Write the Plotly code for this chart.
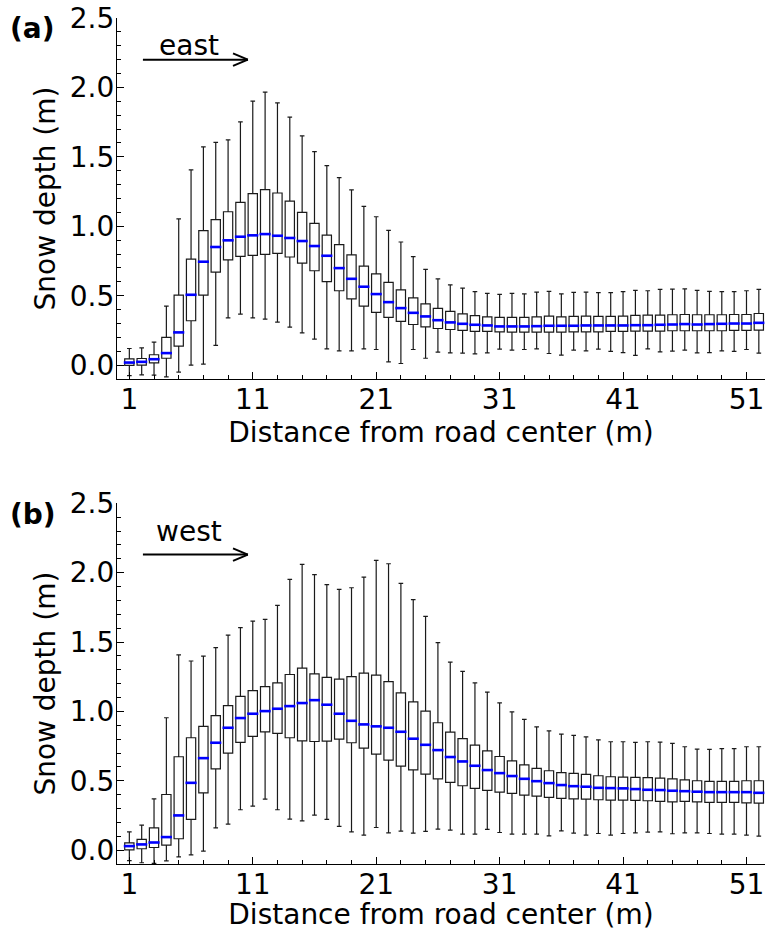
import plotly.graph_objects as go

positions = list(range(1, 53))

# Panel (a): east
upper_a = [0.12, 0.125, 0.166, 0.425, 1.053, 1.406, 1.572, 1.605, 1.622, 1.752,
           1.901, 1.966, 1.889, 1.786, 1.651, 1.538, 1.437, 1.351, 1.262, 1.144,
           1.069, 0.971, 0.887, 0.781, 0.69, 0.622, 0.579, 0.555, 0.53, 0.517,
           0.510, 0.517, 0.514, 0.526, 0.531, 0.514, 0.524, 0.526, 0.522, 0.522,
           0.529, 0.538, 0.536, 0.546, 0.548, 0.550, 0.538, 0.531, 0.529, 0.529, 0.536, 0.546]
q3_a = [0.046, 0.048, 0.075, 0.2, 0.505, 0.764, 0.969, 1.048, 1.105, 1.173,
        1.235, 1.264, 1.24, 1.182, 1.101, 1.021, 0.937, 0.868, 0.795, 0.714,
        0.658, 0.596, 0.543, 0.485, 0.442, 0.409, 0.387, 0.37, 0.357, 0.348,
        0.344, 0.344, 0.344, 0.348, 0.353, 0.348, 0.351, 0.353, 0.351, 0.351,
        0.353, 0.358, 0.360, 0.360, 0.363, 0.365, 0.363, 0.363, 0.363, 0.365, 0.365, 0.372]
med_a = [0.019, 0.024, 0.043, 0.087, 0.236, 0.507, 0.745, 0.851, 0.899, 0.925,
         0.935, 0.944, 0.932, 0.916, 0.894, 0.858, 0.788, 0.699, 0.622, 0.565,
         0.512, 0.454, 0.411, 0.377, 0.351, 0.324, 0.308, 0.298, 0.291, 0.286,
         0.279, 0.279, 0.279, 0.281, 0.284, 0.284, 0.284, 0.286, 0.286, 0.286,
         0.286, 0.288, 0.288, 0.291, 0.293, 0.296, 0.293, 0.296, 0.298, 0.300, 0.300, 0.305]
q1_a = [-0.002, 0.0, 0.017, 0.05, 0.137, 0.32, 0.505, 0.67, 0.759, 0.783,
        0.79, 0.798, 0.805, 0.779, 0.735, 0.68, 0.601, 0.536, 0.478, 0.425,
        0.38, 0.344, 0.315, 0.293, 0.276, 0.264, 0.257, 0.25, 0.243, 0.243,
        0.240, 0.238, 0.238, 0.238, 0.238, 0.238, 0.240, 0.240, 0.240, 0.243,
        0.243, 0.245, 0.245, 0.245, 0.248, 0.248, 0.248, 0.248, 0.248, 0.250, 0.250, 0.252]
lower_a = [-0.075, -0.07, -0.072, -0.084, -0.05, 0.0, 0.007, 0.142, 0.341, 0.368,
           0.341, 0.332, 0.31, 0.274, 0.233, 0.187, 0.118, 0.103, 0.103, 0.118,
           0.113, 0.024, 0.012, 0.113, 0.05, 0.094, 0.089, 0.087, 0.082, 0.089,
           0.115, 0.108, 0.113, 0.118, 0.084, 0.072, 0.108, 0.103, 0.115, 0.099,
           0.091, 0.070, 0.118, 0.096, 0.101, 0.108, 0.089, 0.091, 0.103, 0.099, 0.113, 0.087]

# Panel (b): west
upper_b = [0.132, 0.18, 0.37, 0.954, 1.408, 1.363, 1.399, 1.459, 1.55, 1.603,
           1.651, 1.663, 1.764, 1.951, 2.06, 1.985, 1.913, 1.879, 1.891, 1.968,
           2.088, 2.064, 1.923, 1.805, 1.685, 1.495, 1.355, 1.288, 1.206, 1.139,
           1.062, 0.997, 0.942, 0.889, 0.86, 0.836, 0.827, 0.817, 0.795, 0.781,
           0.781, 0.776, 0.781, 0.779, 0.769, 0.745, 0.728, 0.726, 0.731, 0.731, 0.745, 0.745]
q3_b = [0.053, 0.077, 0.161, 0.401, 0.673, 0.81, 0.892, 0.969, 1.041, 1.108,
        1.149, 1.178, 1.206, 1.266, 1.312, 1.271, 1.245, 1.233, 1.25, 1.276,
        1.262, 1.214, 1.134, 1.069, 1.002, 0.918, 0.851, 0.803, 0.757, 0.716,
        0.675, 0.644, 0.615, 0.589, 0.572, 0.558, 0.553, 0.546, 0.536, 0.529,
        0.526, 0.524, 0.522, 0.519, 0.514, 0.507, 0.5, 0.495, 0.495, 0.495, 0.5, 0.5]
med_b = [0.029, 0.041, 0.055, 0.094, 0.25, 0.485, 0.663, 0.774, 0.882, 0.952,
         0.983, 1.002, 1.019, 1.038, 1.06, 1.081, 1.048, 0.983, 0.932, 0.906,
         0.892, 0.882, 0.853, 0.803, 0.759, 0.721, 0.671, 0.639, 0.608, 0.577,
         0.555, 0.534, 0.514, 0.497, 0.483, 0.469, 0.461, 0.457, 0.449, 0.447,
         0.445, 0.44, 0.435, 0.433, 0.428, 0.425, 0.421, 0.418, 0.418, 0.418, 0.418, 0.413]
q1_b = [0.002, 0.01, 0.019, 0.036, 0.082, 0.221, 0.413, 0.586, 0.699, 0.776,
        0.82, 0.853, 0.841, 0.81, 0.788, 0.783, 0.786, 0.8, 0.774, 0.735,
        0.692, 0.649, 0.606, 0.579, 0.548, 0.514, 0.488, 0.464, 0.445, 0.43,
        0.418, 0.409, 0.397, 0.389, 0.38, 0.373, 0.37, 0.368, 0.363, 0.36,
        0.36, 0.358, 0.356, 0.351, 0.348, 0.351, 0.348, 0.344, 0.344, 0.344, 0.341, 0.339]
lower_b = [-0.075, -0.091, -0.096, -0.077, -0.048, -0.034, -0.007, 0.161, 0.187, 0.291,
           0.317, 0.368, 0.291, 0.224, 0.211, 0.252, 0.221, 0.171, 0.132, 0.108,
           0.163, 0.125, 0.137, 0.123, 0.135, 0.151, 0.144, 0.115, 0.115, 0.149,
           0.127, 0.115, 0.115, 0.115, 0.103, 0.139, 0.123, 0.108, 0.12, 0.108,
           0.12, 0.125, 0.13, 0.132, 0.118, 0.125, 0.125, 0.12, 0.115, 0.115, 0.108, 0.101]

panel_labels = ["(a)", "(b)"]
direction_labels = ["east", "west"]
x_title = "Distance from road center (m)"
y_title = "Snow depth (m)"

FONT = "DejaVu Sans"
BOX_W = 0.75
MED_HW = 0.45

fig = go.Figure()


def add_panel(q1, med, q3, lo, hi, xa, ya):
    fig.add_trace(go.Box(
        x=positions, q1=q1, median=med, q3=q3, lowerfence=lo, upperfence=hi,
        width=BOX_W, whiskerwidth=0.5, boxpoints=False,
        fillcolor="white", line=dict(color="#1a1a1a", width=1.2),
        xaxis=xa, yaxis=ya, showlegend=False, hoverinfo="skip"))
    mx, my = [], []
    for p, m in zip(positions, med):
        mx += [p - MED_HW, p + MED_HW, None]
        my += [m, m, None]
    fig.add_trace(go.Scatter(
        x=mx, y=my, mode="lines", line=dict(color="#0000ff", width=2.6),
        xaxis=xa, yaxis=ya, showlegend=False, hoverinfo="skip"))


add_panel(q1_a, med_a, q3_a, lower_a, upper_a, "x", "y")
add_panel(q1_b, med_b, q3_b, lower_b, upper_b, "x2", "y2")

xaxis_common = dict(
    range=[0, 52.5], tick0=1, dtick=10, ticks="inside", ticklen=7, tickwidth=1.2,
    tickcolor="black", showline=True, linecolor="black", linewidth=1.3,
    showgrid=False, zeroline=False, ticklabelstandoff=-5, automargin=False,
    tickfont=dict(family=FONT, size=28, color="black"),
    minor=dict(tick0=1, dtick=2, ticks="inside", ticklen=4, tickwidth=1,
               tickcolor="black", showgrid=False),
    title=dict(text=x_title, font=dict(family=FONT, size=28, color="black"), standoff=0),
)
yaxis_common = dict(
    range=[-0.1, 2.5], tick0=0, dtick=0.5, tickformat=".1f", ticks="inside",
    ticklen=7, tickwidth=1.2, tickcolor="black", showline=True, linecolor="black",
    linewidth=1.3, showgrid=False, zeroline=False, ticklabelstandoff=-4, automargin=False,
    tickfont=dict(family=FONT, size=28, color="black"),
    minor=dict(tick0=0, dtick=0.1, ticks="inside", ticklen=4, tickwidth=1,
               tickcolor="black", showgrid=False),
    title=dict(text=y_title, font=dict(family=FONT, size=28, color="black"), standoff=5),
)

fig.update_layout(
    width=765, height=931,
    margin=dict(l=117, r=0, t=18, b=67, autoexpand=False),
    paper_bgcolor="white", plot_bgcolor="white",
    xaxis=dict(xaxis_common, anchor="y", domain=[0, 1]),
    yaxis=dict(yaxis_common, anchor="x", domain=[0.5732, 1.0]),
    xaxis2=dict(xaxis_common, anchor="y2", domain=[0, 1]),
    yaxis2=dict(yaxis_common, anchor="x2", domain=[0.0, 0.4264]),
)

# Direction arrows and labels
arrow_x0, arrow_x1 = 2.1, 10.6
arrow_y = [2.2, 2.13]
head_dx, head_dy = 1.2, 0.045
label_x, label_y = 5.87, 2.30
axes_refs = [("x", "y"), ("x2", "y2")]
panel_label_y = [0.988, 0.4131]

for i, (xr, yr) in enumerate(axes_refs):
    ay = arrow_y[i]
    for (x0, y0, x1, y1) in [
        (arrow_x0, ay, arrow_x1, ay),
        (arrow_x1 - head_dx, ay + head_dy, arrow_x1, ay),
        (arrow_x1 - head_dx, ay - head_dy, arrow_x1, ay),
    ]:
        fig.add_shape(type="line", xref=xr, yref=yr, x0=x0, y0=y0, x1=x1, y1=y1,
                      line=dict(color="black", width=2))
    fig.add_annotation(x=label_x, y=label_y, xref=xr, yref=yr, text=direction_labels[i],
                       showarrow=False, xanchor="center", yanchor="middle",
                       font=dict(family=FONT, size=28, color="black"))
    fig.add_annotation(x=-0.1304, y=panel_label_y[i], xref="paper", yref="paper",
                       text="<b>" + panel_labels[i] + "</b>", showarrow=False,
                       xanchor="center", yanchor="middle",
                       font=dict(family=FONT, size=28, color="black"))

# Remove the default page-body margin so the figure sits at the window origin.
fig.write_html("out.html", config={"displayModeBar": False},
               post_script="document.body.style.margin='0';document.body.style.overflow='hidden';")
